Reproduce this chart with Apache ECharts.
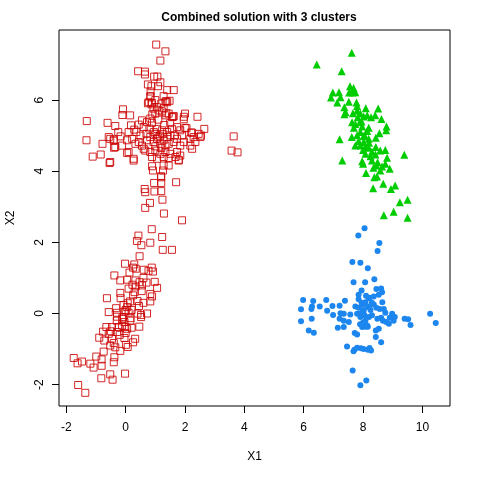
<!DOCTYPE html>
<html>
<head>
<meta charset="utf-8">
<script src="https://cdn.jsdelivr.net/npm/echarts@6/dist/echarts.min.js"></script>
<style>
  html, body { margin: 0; padding: 0; background: #fff; }
  #chart { width: 480px; height: 480px; }
</style>
</head>
<body>
<div id="chart"></div>
<script>
// cluster points (X1, X2)
var cluster1 = [ // blue, filled circles
  [8.05,2.4],[7.84,2.19],[7.64,1.45],[7.91,1.43],[8.16,1.27],[7.68,0.88],[8.07,0.88],[7.95,0.65],[7.85,0.53],
  [5.98,0.38],[6.32,0.35],[6.28,0.2],[6.26,0.13],[6.76,0.38],[7.39,0.36],[6.54,0.2],[6.79,0.08],[6.97,0.21],
  [7.21,0.22],[5.91,0.12],[6.99,-0.04],[7.24,0.01],[7.35,-0.01],[7.57,-0.03],[7.74,0.2],[7.85,0.16],[7.97,0.25],
  [8.08,0.32],[8.14,0.18],[8.02,0.08],[7.8,-0.01],[7.91,-0.1],[8.08,-0.2],[8.19,0.43],[6.27,-0.15],[5.91,-0.22],
  [7.21,-0.15],[7.35,-0.2],[7.52,-0.24],[7.15,-0.4],[7.35,-0.38],[7.97,-0.38],[8.08,-0.37],[8.16,-0.37],
  [6.17,-0.48],[6.34,-0.54],[7.72,-0.55],[7.8,-0.59],[7.46,-0.93],[7.71,-1.02],[7.8,-0.96],[7.93,-0.98],
  [8.02,-1.0],[8.16,-1.02],[7.68,-1.06],[7.65,-1.6],[8.11,-1.88],[7.91,-2.02],
  [8.55,1.98],[8.49,1.76],[8.38,0.96],[8.45,0.69],[8.61,0.7],[8.64,0.6],[8.53,0.53],[8.22,0.44],[8.36,0.48],
  [8.65,0.32],[8.36,0.25],[8.45,0.16],[8.56,0.13],[8.7,0.13],[8.75,0.02],[8.98,-0.01],[9.07,-0.1],[8.9,-0.12],
  [8.48,-0.15],[8.61,-0.12],[8.67,-0.2],[8.78,-0.24],[8.87,-0.29],[9.03,-0.2],[9.4,-0.15],[9.52,-0.16],
  [9.6,-0.32],[10.26,-0.01],[10.45,-0.27],[8.14,-0.34],[8.43,-0.48],[8.53,-0.43],[8.43,-0.66],[8.61,-0.81],
  [8.22,-0.97],[8.27,-1.04],
  [7.95,0.3],[8.0,0.1],[7.9,0.0],[8.05,-0.05],[7.85,0.4],[8.1,0.5],[8.0,-0.25],[7.9,-0.3],[8.2,0.2],
  [8.25,0.1],[8.3,-0.05],[8.2,-0.1],[8.3,0.3]
];

var cluster2 = [ // red, open squares
  [1.03,7.56],[1.34,7.37],[1.17,7.11],[0.42,6.81],[0.65,6.8],[0.65,6.72],[0.96,6.66],[1.07,6.66],[1.17,6.5],
  [0.75,6.44],[0.87,6.39],[1.09,6.39],[0.84,6.24],[0.84,6.11],[0.75,5.91],[0.87,5.88],[-0.09,5.74],[-0.11,5.58],
  [0.15,5.57],[-1.31,5.41],[-0.61,5.36],[-0.35,5.27],[0.18,5.29],
  [1.4,6.28],[1.62,6.28],[1.28,6.11],[1.37,5.97],[1.48,5.98],[1.06,5.8],[1.28,5.77],[1.37,5.63],[2.0,5.62],
  [1.96,5.53],[2.42,5.53],[1.6,5.53],[2.01,5.22],[2.65,5.19],[2.21,5.09],[2.54,5.0],[3.64,4.98],[3.57,4.58],[3.77,4.53],
  [-1.32,4.87],[-1.11,4.41],[-0.84,4.47],[-0.78,4.77],[-0.54,4.23],[-0.57,4.96],[-0.4,4.89],[-0.17,4.98],
  [-0.39,4.66],[0.05,4.51],[0.27,4.3],[0.89,4.14],[0.92,4.02],[1.26,4.02],[1.45,4.16],[1.79,4.32],[1.2,3.83],
  [0.96,3.67],[1.2,3.67],[1.7,3.69],[0.64,3.5],[0.66,3.41],[0.97,3.43],[1.2,3.44],[0.82,3.11],[1.24,3.2],
  [0.66,2.97],[1.29,2.81],[1.9,2.62],[0.88,2.37],
  [0.83,6.1],[0.78,5.94],[0.89,5.92],[1.34,5.96],[1.4,5.94],[0.94,5.76],[1.11,5.71],[1.23,5.68],[1.0,5.62],
  [1.34,5.57],[1.45,5.62],[1.56,5.52],[1.62,5.55],[1.96,5.46],[0.55,5.43],[0.44,5.31],[0.61,5.24],[0.72,5.38],
  [0.83,5.48],[0.89,5.36],[0.29,5.17],[0.36,5.1],[2.05,5.21],[2.46,5.05],[2.24,5.08],[1.06,5.19],[1.23,5.15],
  [1.4,5.1],[1.56,5.19],[1.73,5.24],[1.84,5.15],[-0.52,4.91],[-0.4,4.86],[-0.35,4.68],[-0.12,4.72],[0.05,4.87],
  [0.1,4.54],[0.27,4.35],[-0.52,4.26],[0.22,4.91],[0.33,4.77],[0.44,4.82],[0.55,4.72],[0.61,4.63],[0.72,4.87],
  [0.83,4.96],[0.94,4.82],[1.06,4.91],[1.17,4.77],[1.28,4.87],[1.4,4.96],[1.51,5.01],[1.45,4.77],[1.34,4.72],
  [1.62,4.82],[1.73,4.91],[1.84,4.72],[1.96,4.82],[2.18,4.91],[2.29,4.96],[2.18,4.72],[2.35,4.82],[2.52,4.96],
  [2.24,4.63],[0.66,4.58],[0.83,4.54],[1.0,4.58],[1.17,4.49],[1.34,4.54],[1.51,4.49],[1.73,4.54],[1.84,4.44],
  [0.89,4.4],[1.06,4.35],[1.28,4.4],[1.45,4.37],[1.68,4.4],[1.79,4.3],[1.28,4.16],[1.19,3.86],
  [1.0,5.05],[1.15,5.0],[1.25,5.05],[0.95,5.1],[1.1,4.95],[1.2,4.65],[1.0,4.7],[0.7,5.05],[1.3,5.3],[1.5,5.35],
  [0.5,5.0],[0.8,5.2],[1.65,5.0],[1.9,5.0],[0.1,5.1],[-0.25,5.1],[1.1,5.45],[1.2,5.9],[1.0,6.0],[0.9,5.6],
  // lower group
  [0.43,2.19],[0.38,2.04],[0.53,1.92],[0.83,1.99],[1.23,2.15],[1.25,1.79],[1.56,1.79],[0.47,1.61],[-0.02,1.4],
  [0.29,1.38],[0.34,1.26],[0.25,1.29],[0.88,1.29],[0.61,1.23],[0.77,1.2],[0.92,1.18],[0.13,1.15],[-0.38,1.07],
  [-0.18,0.93],[0.05,0.95],[0.33,0.93],[0.47,0.88],[0.7,0.87],[0.98,0.89],[0.23,0.81],[0.34,0.76],[0.55,0.79],
  [1.06,0.72],[0.54,0.63],[-0.18,0.58],[0.83,0.55],[0.89,0.48],[0.25,0.51],[-0.63,0.43],[-0.17,0.43],[0.15,0.34],
  [0.07,0.29],[0.4,0.35],[0.45,0.21],[0.83,0.34],[-0.07,0.24],[-0.32,0.15],[0.05,0.18],[-0.57,0.04],[-0.29,0.02],
  [-0.01,0.06],[0.1,0.02],[0.52,-0.04],[0.72,0.0],[-0.29,-0.09],[-0.12,-0.15],[0.16,-0.13],[0.52,-0.1],
  [-0.04,-0.24],[0.16,-0.2],[-0.12,-0.34],[0.46,-0.37],[-0.65,-0.38],[-0.46,-0.38],[-0.24,-0.38],[-0.01,-0.38],
  [0.05,-0.43],[-0.76,-0.51],[-0.57,-0.57],[-0.29,-0.52],[-0.2,-0.6],[-0.89,-0.68],[-0.72,-0.76],[-0.46,-0.71],
  [-0.4,-0.83],[-0.04,-0.69],[0.32,-0.71],[0.25,-0.81],[-0.52,-0.9],[-0.35,-0.95],[0.01,-0.88],[0.07,-0.94],
  [-0.18,-1.05],[-0.74,-1.07],[-0.99,-1.21],[-1.75,-1.25],[-1.62,-1.4],[-1.47,-1.35],[-1.19,-1.41],[-1.08,-1.52],
  [-0.81,-1.29],[-0.81,-1.47],[-0.38,-1.23],[-0.4,-1.37],[-0.82,-1.82],[-0.44,-1.86],[-0.52,-1.71],[-0.02,-1.69],
  [-1.6,-2.01],[-1.36,-2.23],
  [0.0,0.1],[-0.1,-0.1],[0.2,0.1],[0.3,0.6],[0.6,1.0],[-0.3,-0.2],[0.4,0.0],[0.1,0.7],[-0.5,-0.5],[0.0,-0.55],
  [0.6,0.3],[0.2,-0.4]
];

var cluster3 = [ // green, filled triangles
  [7.62,7.33],[6.44,7.0],[7.28,6.81],[7.56,6.39],[7.68,6.34],[7.65,6.21],[7.53,6.21],[7.74,6.22],[6.98,6.21],
  [7.19,6.22],[7.24,6.08],[6.92,6.07],[7.13,5.93],[7.52,5.95],[7.78,5.93],[7.8,5.83],[7.37,5.8],[7.41,5.66],
  [7.37,5.6],[8.09,5.77],[8.51,5.76],[7.8,5.71],[7.91,5.62],[7.66,5.63],[7.82,5.52],[8.02,5.54],[8.14,5.57],
  [8.27,5.52],[8.41,5.57],[8.62,5.47],[7.63,5.38],[7.74,5.33],[7.89,5.38],[7.97,5.26],[7.69,5.22],[8.19,5.22],
  [8.14,5.13],[7.91,5.1],[8.05,5.01],[7.8,5.01],[8.79,5.26],[8.78,5.15],[8.55,5.07],
  [7.21,4.9],[7.62,4.96],[8.02,4.98],[8.19,4.91],[8.02,4.82],[8.43,4.94],[7.74,4.72],[7.91,4.72],[8.08,4.68],
  [8.19,4.66],[8.43,4.68],[8.58,4.58],[8.75,4.6],[9.39,4.46],[7.3,4.3],[8.08,4.49],[8.25,4.42],[8.42,4.47],
  [8.3,4.3],[8.49,4.25],[8.81,4.38],[7.97,4.28],[8.0,4.21],[8.45,4.16],[8.64,4.13],[8.75,4.21],[8.9,4.07],
  [8.58,4.02],[8.47,3.85],[8.38,3.83],[8.1,3.95],[8.68,3.65],[9.08,3.6],[8.34,3.52],[8.94,3.5],[9.24,3.13],
  [9.5,3.2],[9.03,2.86],[8.7,2.76],[9.5,2.69],
  [7.95,5.4],[8.0,4.6],[8.2,4.8],[8.3,4.55],[7.85,4.85],[8.35,4.1]
];

var xTicks = [-2, 0, 2, 4, 6, 8, 10];
var yTicks = [-2, 0, 2, 4, 6];

var font = 'Liberation Sans, Arial, Helvetica, sans-serif';

var chart = echarts.init(document.getElementById('chart'));
chart.setOption({
  animation: false,
  title: {
    text: 'Combined solution with 3 clusters',
    left: 254, top: 7, textAlign: 'center',
    textStyle: { fontFamily: font, fontSize: 12, fontWeight: 'bold', color: '#000' }
  },
  grid: {
    left: 59, right: 30, top: 30, bottom: 74,
    outerBoundsMode: 'none', containLabel: false,
    show: true, borderColor: '#000', borderWidth: 1, backgroundColor: 'transparent'
  },
  xAxis: {
    type: 'value', min: -2.246, max: 10.93,
    name: 'X1', nameLocation: 'middle', nameGap: 45,
    nameTextStyle: { fontFamily: font, fontSize: 12, color: '#000' },
    axisLine: { show: false, onZero: false },
    axisTick: { show: true, inside: false, length: 7, customValues: xTicks, lineStyle: { color: '#000' } },
    axisLabel: { customValues: xTicks, margin: 16, fontFamily: font, fontSize: 12, color: '#000' },
    splitLine: { show: false }
  },
  yAxis: {
    type: 'value', min: -2.6, max: 7.97,
    name: 'X2', nameLocation: 'middle', nameGap: 42, nameRotate: 90,
    nameTextStyle: { fontFamily: font, fontSize: 12, color: '#000' },
    axisLine: { show: false, onZero: false },
    axisTick: { show: true, inside: false, length: 7, customValues: yTicks, lineStyle: { color: '#000' } },
    axisLabel: { customValues: yTicks, rotate: 90, margin: 13, fontFamily: font, fontSize: 12, color: '#000' },
    splitLine: { show: false }
  },
  series: [
    {
      type: 'scatter', data: cluster2, symbol: 'rect', symbolSize: 7,
      itemStyle: { color: 'rgba(0,0,0,0)', borderColor: '#CD0000', borderWidth: 1, opacity: 0.85 }
    },
    {
      type: 'scatter', data: cluster3, symbol: 'triangle', symbolSize: 8,
      itemStyle: { color: '#00CD00', opacity: 1 }
    },
    {
      type: 'scatter', data: cluster1, symbol: 'circle', symbolSize: 6,
      itemStyle: { color: '#1C86EE', opacity: 1 }
    }
  ]
});
</script>
</body>
</html>
